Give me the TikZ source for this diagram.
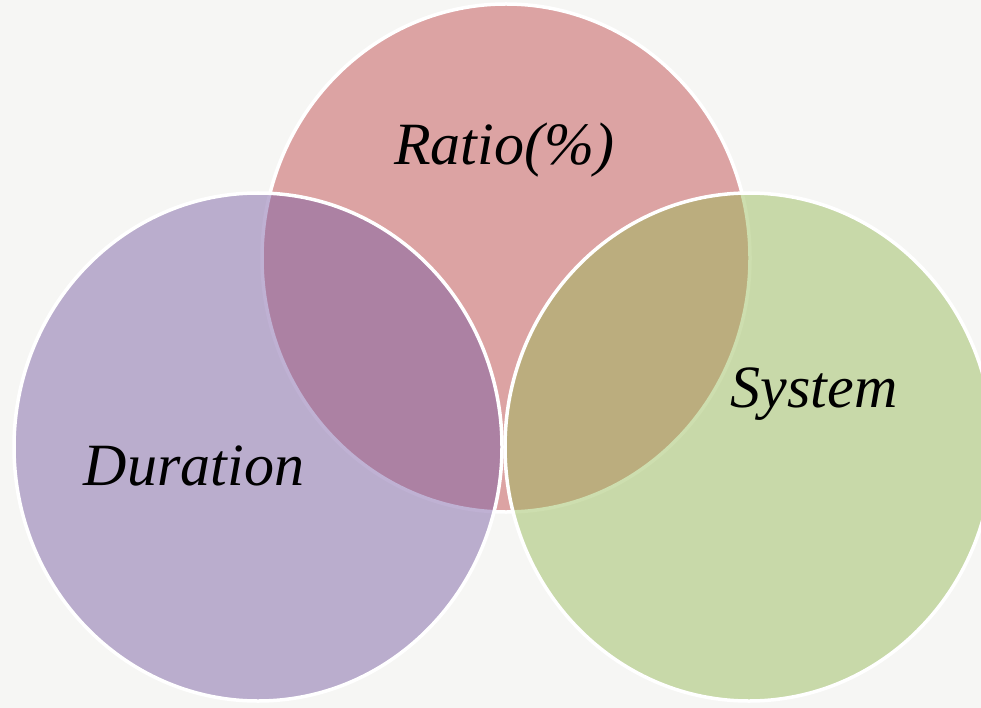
\documentclass[tikz,border=0pt]{standalone}
\usepackage{fontspec}
\setmainfont{Liberation Serif}
\usepackage{tikz}
\definecolor{bgpaper}{RGB}{246,246,244}
\definecolor{ratiored}{RGB}{220,163,163}
\definecolor{durpurple}{RGB}{120,91,163}
\definecolor{sysgreen}{RGB}{150,186,85}

\begin{document}
\begin{tikzpicture}[x=1pt, y=-1pt,
    venn/.style={draw=white, line width=3.5pt, fill opacity=0.47},
    venntext/.style={font=\itshape\fontsize{60}{60}\selectfont, anchor=base}]
                % Background
                \fill[bgpaper] (0,0) rectangle (981,708);
                \useasboundingbox (0,0) rectangle (981,708);

                % Ratio circle (top)
                \draw[venn, fill=ratiored, fill opacity=1] (506,258) ellipse [x radius=244, y radius=254];
                % Duration circle (left)
                \draw[venn, fill=durpurple] (258,447) ellipse [x radius=244, y radius=254];
                % System circle (right)
                \draw[venn, fill=sysgreen] (749,447) ellipse [x radius=244, y radius=254];

                % Labels
                \node[venntext] (ratio) at (504,165) {Ratio(\%)};
                \node[venntext] (duration) at (194,485) {Duration};
                \node[venntext] (system) at (814,407) {System};
            \end{tikzpicture}
\end{document}
